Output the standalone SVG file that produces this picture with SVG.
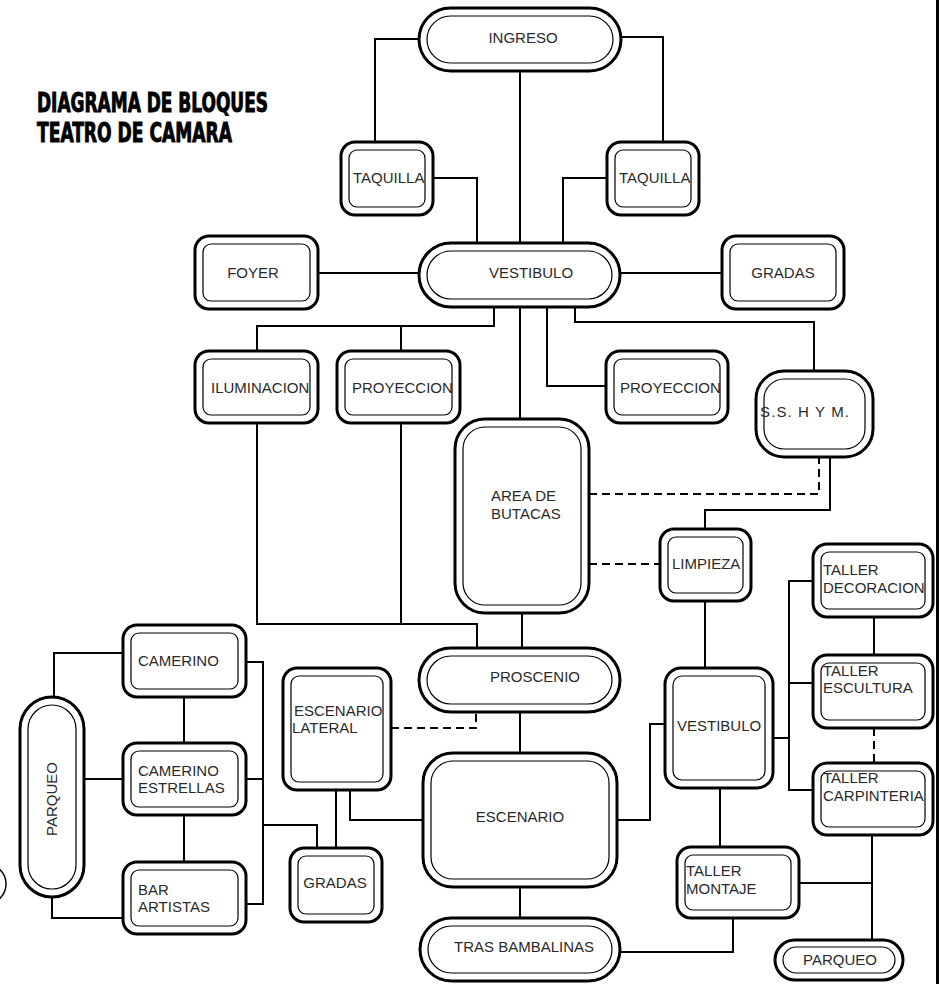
<svg xmlns="http://www.w3.org/2000/svg" width="940" height="984" viewBox="0 0 940 984">
<style>
.o{fill:#fff;stroke:#000;stroke-width:3}
.i{fill:none;stroke:#000;stroke-width:1.2}
.c{fill:none;stroke:#000;stroke-width:2}
.d{fill:none;stroke:#000;stroke-width:2;stroke-dasharray:8 5}
text{font-family:"Liberation Sans",Arial,sans-serif;font-size:15px;fill:#2a2a2a}
.m{text-anchor:middle}
.t{font-family:"Liberation Sans Narrow","DejaVu Sans Condensed",sans-serif;font-size:26px;font-weight:bold;fill:#000;stroke:#000;stroke-width:0.9}
</style>
<rect width="940" height="984" fill="#fff"/>
<line x1="937.5" y1="0" x2="937.5" y2="984" stroke="#000" stroke-width="3"/>
<circle cx="-14" cy="884" r="20" fill="none" stroke="#000" stroke-width="1.5"/>
<g id="title">
<text class="t" x="37" y="112" textLength="231" lengthAdjust="spacingAndGlyphs">DIAGRAMA DE BLOQUES</text>
<text class="t" x="37" y="142" textLength="195" lengthAdjust="spacingAndGlyphs">TEATRO DE CAMARA</text>
</g>
<g id="connectors">
<path class="c" d="M419,39 H375 V142"/>
<path class="c" d="M621,37 H663 V142"/>
<path class="c" d="M520,71 V243"/>
<path class="c" d="M433,178 H477 V243"/>
<path class="c" d="M607,178 H563 V243"/>
<path class="c" d="M318,273 H419"/>
<path class="c" d="M620,273 H722"/>
<path class="c" d="M494,307 V326 H257 V351"/>
<path class="c" d="M401,326 V351"/>
<path class="c" d="M520,307 V420"/>
<path class="c" d="M547,307 V386 H606"/>
<path class="c" d="M575,307 V322 H814 V371"/>
<path class="c" d="M257,423 V624 H477 V648"/>
<path class="c" d="M401,423 V624"/>
<path class="c" d="M522,613 V648"/>
<path class="d" d="M589,494 H819 V457"/>
<path class="c" d="M830,457 V510 H705 V529"/>
<path class="d" d="M589,564 H660"/>
<path class="c" d="M705,601 V668"/>
<path class="d" d="M391,728 H476 V712"/>
<path class="c" d="M520,712 V753"/>
<path class="c" d="M350,790 V820 H423"/>
<path class="c" d="M617,820 H650 V724 H665"/>
<path class="c" d="M520,887 V918"/>
<path class="c" d="M620,952 H733 V918"/>
<path class="c" d="M720,788 V847"/>
<path class="c" d="M773,738 H789"/>
<path class="c" d="M813,581 H789 V790 H813"/>
<path class="c" d="M789,683 H813"/>
<path class="c" d="M874,616 V655"/>
<path class="d" d="M874,728 V763"/>
<path class="c" d="M872,835 V940"/>
<path class="c" d="M799,883 H872"/>
<path class="c" d="M54,697 V653 H123"/>
<path class="c" d="M84,779 H123"/>
<path class="c" d="M52,897 V918 H123"/>
<path class="c" d="M184,697 V743"/>
<path class="c" d="M184,815 V862"/>
<path class="c" d="M246,662 H263 V904 H246"/>
<path class="c" d="M246,779 H263"/>
<path class="c" d="M263,825 H317 V848"/>
<path class="c" d="M336,790 V848"/>
</g>
<g id="ingreso"><rect class="o" x="419" y="8" width="202" height="63" rx="31.5"/><rect class="i" x="427" y="16" width="186" height="47" rx="23.5"/><text class="m" x="523" y="43">INGRESO</text></g>
<g id="taquilla1"><rect class="o" x="341" y="142" width="92" height="73" rx="14"/><rect class="i" x="349" y="150" width="76" height="57" rx="8"/><text x="353" y="183">TAQUILLA</text></g>
<g id="taquilla2"><rect class="o" x="607" y="142" width="92" height="73" rx="14"/><rect class="i" x="615" y="150" width="76" height="57" rx="8"/><text x="619" y="183">TAQUILLA</text></g>
<g id="foyer"><rect class="o" x="195" y="236" width="123" height="73" rx="14"/><rect class="i" x="203" y="244" width="107" height="57" rx="8"/><text class="m" x="253" y="278">FOYER</text></g>
<g id="vestibulo"><rect class="o" x="419" y="243" width="201" height="64" rx="32"/><rect class="i" x="427" y="251" width="185" height="48" rx="24"/><text class="m" x="531" y="278">VESTIBULO</text></g>
<g id="gradas"><rect class="o" x="722" y="236" width="122" height="73" rx="14"/><rect class="i" x="730" y="244" width="106" height="57" rx="8"/><text class="m" x="783" y="278">GRADAS</text></g>
<g id="iluminacion"><rect class="o" x="195" y="351" width="123" height="72" rx="14"/><rect class="i" x="203" y="359" width="107" height="56" rx="8"/><text x="211" y="393">ILUMINACION</text></g>
<g id="proyeccion1"><rect class="o" x="337" y="351" width="123" height="72" rx="14"/><rect class="i" x="345" y="359" width="107" height="56" rx="8"/><text x="352" y="393">PROYECCION</text></g>
<g id="proyeccion2"><rect class="o" x="606" y="351" width="122" height="72" rx="14"/><rect class="i" x="614" y="359" width="106" height="56" rx="8"/><text x="620" y="393">PROYECCION</text></g>
<g id="sshym"><rect class="o" x="756" y="371" width="117" height="86" rx="28"/><rect class="i" x="764" y="379" width="101" height="70" rx="20"/><text x="760" y="417" textLength="89">S.S. H Y M.</text></g>
<g id="butacas"><rect class="o" x="455" y="419" width="134" height="194" rx="30"/><rect class="i" x="463" y="427" width="118" height="178" rx="22"/><text x="491" y="501">AREA DE</text><text x="491" y="519">BUTACAS</text></g>
<g id="limpieza"><rect class="o" x="660" y="529" width="91" height="72" rx="14"/><rect class="i" x="668" y="537" width="75" height="56" rx="8"/><text x="672" y="569">LIMPIEZA</text></g>
<g id="camerino"><rect class="o" x="123" y="625" width="123" height="72" rx="14"/><rect class="i" x="131" y="633" width="107" height="56" rx="8"/><text x="138" y="666">CAMERINO</text></g>
<g id="camerino-estrellas"><rect class="o" x="123" y="743" width="123" height="72" rx="14"/><rect class="i" x="131" y="751" width="107" height="56" rx="8"/><text x="138" y="776">CAMERINO</text><text x="138" y="793">ESTRELLAS</text></g>
<g id="bar-artistas"><rect class="o" x="123" y="862" width="123" height="72" rx="14"/><rect class="i" x="131" y="870" width="107" height="56" rx="8"/><text x="138" y="895">BAR</text><text x="138" y="912">ARTISTAS</text></g>
<g id="parqueo1"><rect class="o" x="20" y="697" width="64" height="200" rx="32"/><rect class="i" x="28" y="705" width="48" height="184" rx="24"/><text class="m" x="57" y="799" transform="rotate(-90 57 799)">PARQUEO</text></g>
<g id="escenario-lateral"><rect class="o" x="283" y="668" width="108" height="122" rx="14"/><rect class="i" x="291" y="676" width="92" height="106" rx="8"/><text x="294" y="716">ESCENARIO</text><text x="292" y="733">LATERAL</text></g>
<g id="gradas2"><rect class="o" x="290" y="848" width="92" height="74" rx="14"/><rect class="i" x="298" y="856" width="76" height="58" rx="8"/><text class="m" x="335" y="888">GRADAS</text></g>
<g id="proscenio"><rect class="o" x="419" y="648" width="201" height="64" rx="32"/><rect class="i" x="427" y="656" width="185" height="48" rx="24"/><text class="m" x="535" y="682">PROSCENIO</text></g>
<g id="escenario"><rect class="o" x="423" y="753" width="194" height="134" rx="30"/><rect class="i" x="431" y="761" width="178" height="118" rx="22"/><text class="m" x="520" y="822">ESCENARIO</text></g>
<g id="tras-bambalinas"><rect class="o" x="420" y="918" width="200" height="63" rx="31.5"/><rect class="i" x="428" y="926" width="184" height="47" rx="23.5"/><text class="m" x="524" y="952">TRAS BAMBALINAS</text></g>
<g id="vestibulo2"><rect class="o" x="665" y="668" width="108" height="120" rx="16"/><rect class="i" x="673" y="676" width="92" height="104" rx="9"/><text x="677" y="731">VESTIBULO</text></g>
<g id="taller-montaje"><rect class="o" x="677" y="847" width="122" height="71" rx="14"/><rect class="i" x="685" y="855" width="106" height="55" rx="8"/><text x="686" y="876">TALLER</text><text x="686" y="894">MONTAJE</text></g>
<g id="taller-decoracion"><rect class="o" x="813" y="544" width="120" height="73" rx="14"/><rect class="i" x="821" y="552" width="104" height="57" rx="8"/><text x="823" y="575">TALLER</text><text x="823" y="593">DECORACION</text></g>
<g id="taller-escultura"><rect class="o" x="813" y="655" width="120" height="73" rx="14"/><rect class="i" x="821" y="663" width="104" height="57" rx="8"/><text x="823" y="676">TALLER</text><text x="823" y="693">ESCULTURA</text></g>
<g id="taller-carpinteria"><rect class="o" x="813" y="763" width="120" height="72" rx="14"/><rect class="i" x="821" y="771" width="104" height="56" rx="8"/><text x="823" y="783">TALLER</text><text x="823" y="801">CARPINTERIA</text></g>
<g id="parqueo2"><rect class="o" x="775" y="940" width="128" height="40" rx="20"/><rect class="i" x="783" y="947" width="112" height="26" rx="13"/><text class="m" x="840" y="965">PARQUEO</text></g>
</svg>
